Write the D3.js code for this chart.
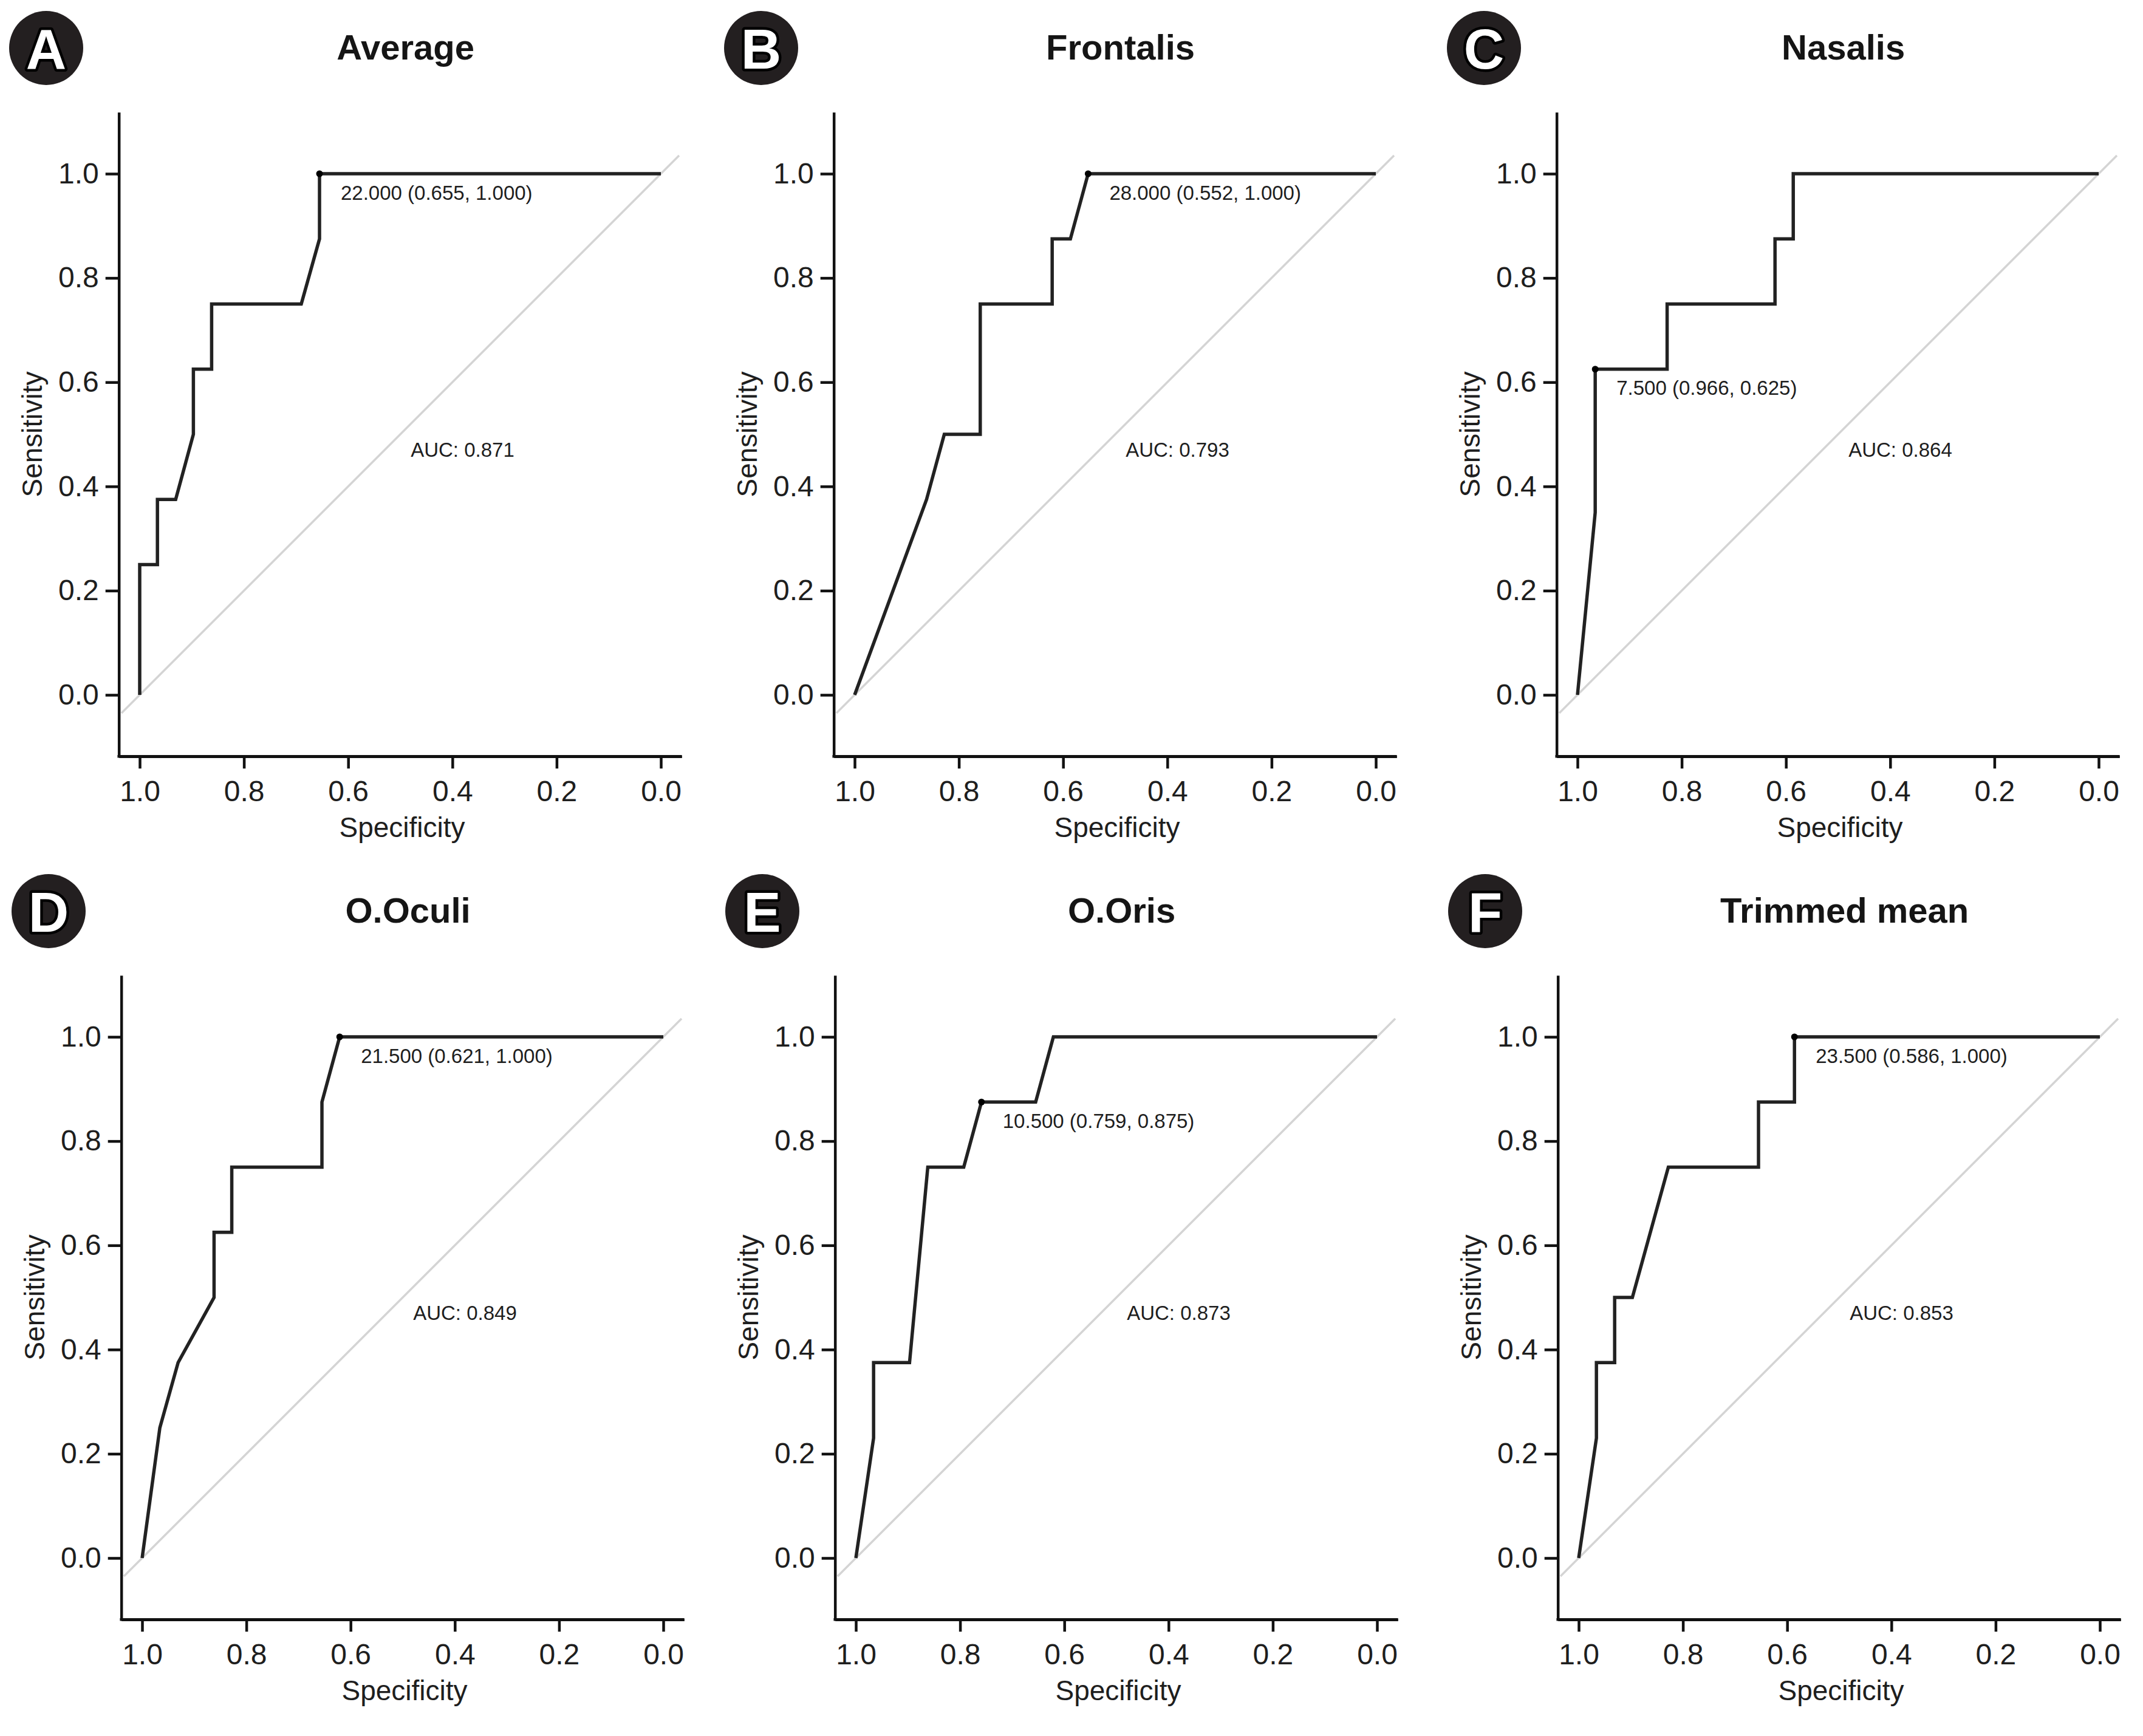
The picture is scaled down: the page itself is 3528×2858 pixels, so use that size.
<!DOCTYPE html>
<html>
<head>
<meta charset="utf-8">
<script src="https://cdn.jsdelivr.net/npm/d3@7"></script>
<style>
  html, body { margin: 0; padding: 0; background: #ffffff; }
  svg { display: block; }
  text { font-family: "Liberation Sans", Arial, sans-serif; }
</style>
</head>
<body>
<script>
// ---------------- DATA ----------------
const panelLetters = ["A", "B", "C", "D", "E", "F"];
const panelTitles = ["Average", "Frontalis", "Nasalis", "O.Oculi", "O.Oris", "Trimmed mean"];
const aucValues = [0.871, 0.793, 0.864, 0.849, 0.873, 0.853];
const thresholds = [22.0, 28.0, 7.5, 21.5, 10.5, 23.5];
const bestSpec = [0.655, 0.552, 0.966, 0.621, 0.759, 0.586];
const bestSens = [1.0, 1.0, 0.625, 1.0, 0.875, 1.0];

const specA = [1, 1, 0.966, 0.966, 0.931, 0.897, 0.897, 0.862, 0.862, 0.690, 0.655, 0.655, 0];
const sensA = [0, 0.25, 0.25, 0.375, 0.375, 0.5, 0.625, 0.625, 0.75, 0.75, 0.875, 1, 1];

const specB = [1, 0.862, 0.828, 0.759, 0.759, 0.621, 0.621, 0.586, 0.552, 0];
const sensB = [0, 0.375, 0.5, 0.5, 0.75, 0.75, 0.875, 0.875, 1, 1];

const specC = [1, 0.966, 0.966, 0.828, 0.828, 0.621, 0.621, 0.586, 0.586, 0];
const sensC = [0, 0.35, 0.625, 0.625, 0.75, 0.75, 0.875, 0.875, 1, 1];

const specD = [1, 0.966, 0.931, 0.862, 0.862, 0.828, 0.828, 0.655, 0.655, 0.621, 0];
const sensD = [0, 0.25, 0.375, 0.5, 0.625, 0.625, 0.75, 0.75, 0.875, 1, 1];

const specE = [1, 0.966, 0.966, 0.897, 0.862, 0.793, 0.759, 0.655, 0.621, 0];
const sensE = [0, 0.23, 0.375, 0.375, 0.75, 0.75, 0.875, 0.875, 1, 1];

const specF = [1, 0.966, 0.966, 0.931, 0.931, 0.897, 0.828, 0.655, 0.655, 0.586, 0.586, 0];
const sensF = [0, 0.23, 0.375, 0.375, 0.5, 0.5, 0.75, 0.75, 0.875, 0.875, 1, 1];

const specSeries = [specA, specB, specC, specD, specE, specF];
const sensSeries = [sensA, sensB, sensC, sensD, sensE, sensF];

const xTickValues = [1.0, 0.8, 0.6, 0.4, 0.2, 0.0];
const yTickValues = [0.0, 0.2, 0.4, 0.6, 0.8, 1.0];
const xAxisTitle = "Specificity";
const yAxisTitle = "Sensitivity";

// ---------------- LAYOUT ----------------
const W = 3528, H = 2858;
const UNIT = 858;                       // pixels per 1.0 of specificity / sensitivity
const colOrigins = [[230, 1407, 2597], [234, 1409, 2599]]; // pixel of spec = 1.0
const rowOrigins = [286, 1707];         // pixel of sens = 1.0
const xDom = [1.04, -0.04];
const yDom = [-0.118, 1.118];

const curveColor = "#222222";
const textColor = "#1e1e1e";

const svg = d3.select("body").append("svg")
  .attr("width", W).attr("height", H)
  .attr("viewBox", `0 0 ${W} ${H}`);
svg.append("rect").attr("width", W).attr("height", H).attr("fill", "#ffffff");

const fmt3 = d3.format(".3f");

panelLetters.forEach((letter, i) => {
  const row = Math.floor(i / 3), col = i % 3;
  const x1 = colOrigins[row][col];
  const y1 = rowOrigins[row];

  const x = d3.scaleLinear().domain([1, 0]).range([x1, x1 + UNIT]);
  const y = d3.scaleLinear().domain([0, 1]).range([y1 + UNIT, y1]);
  const left = x(xDom[0]), right = x(xDom[1]);
  const top = y(yDom[1]), bottom = y(yDom[0]);

  const g = svg.append("g");

  // diagonal reference line
  g.append("line")
    .attr("x1", x(1.035)).attr("y1", y(-0.035))
    .attr("x2", x(-0.035)).attr("y2", y(1.035))
    .attr("stroke", "#d4d4d4").attr("stroke-width", 3.5);

  // ROC curve
  const pts = specSeries[i].map((s, k) => [s, sensSeries[i][k]]);
  const line = d3.line().x(d => x(d[0])).y(d => y(d[1]));
  g.append("path")
    .attr("d", line(pts))
    .attr("fill", "none")
    .attr("stroke", curveColor)
    .attr("stroke-width", 5.5)
    .attr("stroke-linejoin", "miter");

  // threshold point + label
  g.append("circle")
    .attr("cx", x(bestSpec[i])).attr("cy", y(bestSens[i]))
    .attr("r", 5.5).attr("fill", "#000");
  g.append("text")
    .attr("x", x(bestSpec[i]) + 35)
    .attr("y", y(bestSens[i]) + 31)
    .attr("dominant-baseline", "central")
    .attr("font-size", 33)
    .attr("fill", textColor)
    .text(`${fmt3(thresholds[i])} (${fmt3(bestSpec[i])}, ${fmt3(bestSens[i])})`);

  // AUC label
  g.append("text")
    .attr("x", x(0.48))
    .attr("y", y(0.47))
    .attr("dominant-baseline", "central")
    .attr("font-size", 33)
    .attr("fill", textColor)
    .text(`AUC: ${fmt3(aucValues[i])}`);

  // x axis
  const xAxisScale = d3.scaleLinear().domain(xDom).range([left, right]);
  const xAxis = d3.axisBottom(xAxisScale)
    .tickValues(xTickValues)
    .tickFormat(d3.format(".1f"))
    .tickSizeInner(20).tickSizeOuter(0).tickPadding(20);
  const gx = g.append("g").attr("transform", `translate(0,${bottom})`).call(xAxis);
  // y axis
  const yAxisScale = d3.scaleLinear().domain(yDom).range([bottom, top]);
  const yAxis = d3.axisLeft(yAxisScale)
    .tickValues(yTickValues)
    .tickFormat(d3.format(".1f"))
    .tickSizeInner(22).tickSizeOuter(0).tickPadding(11);
  const gy = g.append("g").attr("transform", `translate(${left},0)`).call(yAxis);

  [gx, gy].forEach(ax => {
    ax.select(".domain").attr("stroke", "#111").attr("stroke-width", 4.5);
    ax.selectAll(".tick line").attr("stroke", "#111").attr("stroke-width", 4.5);
    ax.selectAll(".tick text")
      .attr("font-size", 48)
      .attr("font-family", "'Liberation Sans', Arial, sans-serif")
      .attr("fill", textColor);
  });
  // extend axis lines to cover the corner
  g.append("line").attr("x1", left - 2.25).attr("x2", right).attr("y1", bottom).attr("y2", bottom)
    .attr("stroke", "#111").attr("stroke-width", 4.5);

  // axis titles
  g.append("text")
    .attr("x", (left + right) / 2 + 3)
    .attr("y", bottom + 117)
    .attr("text-anchor", "middle")
    .attr("dominant-baseline", "central")
    .attr("font-size", 46)
    .attr("fill", textColor)
    .text(xAxisTitle);
  g.append("text")
    .attr("transform", `translate(${left - 143},${(top + bottom) / 2}) rotate(-90)`)
    .attr("text-anchor", "middle")
    .attr("dominant-baseline", "central")
    .attr("font-size", 46)
    .attr("fill", textColor)
    .text(yAxisTitle);

  // panel title
  g.append("text")
    .attr("x", x(0.49))
    .attr("y", y1 - 209)
    .attr("text-anchor", "middle")
    .attr("dominant-baseline", "central")
    .attr("font-size", 58)
    .attr("font-weight", "bold")
    .attr("fill", "#151515")
    .text(panelTitles[i]);

  // panel letter badge
  const cx = x1 - 154, cy = y1 - 207;
  g.append("circle").attr("cx", cx).attr("cy", cy).attr("r", 61).attr("fill", "#231f20");
  g.append("text")
    .attr("x", cx).attr("y", cy + 2)
    .attr("text-anchor", "middle")
    .attr("dominant-baseline", "central")
    .attr("font-size", 92)
    .attr("font-weight", "bold")
    .attr("fill", "#ffffff")
    .attr("stroke", "#000000")
    .attr("stroke-width", 9)
    .attr("paint-order", "stroke")
    .attr("stroke-linejoin", "round")
    .text(letter);
});
</script>
</body>
</html>
